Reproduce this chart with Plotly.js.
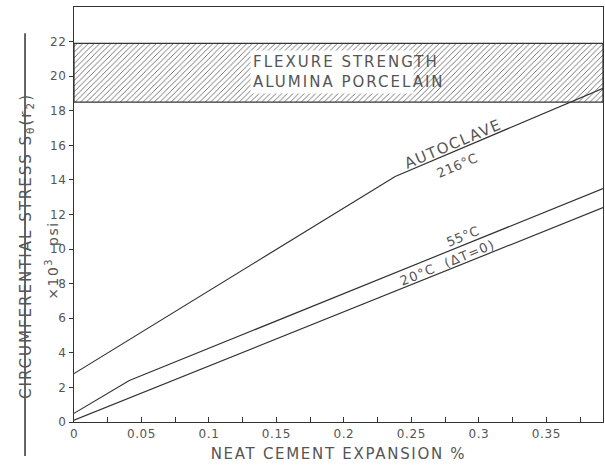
<!DOCTYPE html>
<html>
<head>
<meta charset="utf-8">
<script src="https://cdn.plot.ly/plotly-3.0.1.min.js"></script>
<style>
html,body{margin:0;padding:0;background:#fff;}
#chart{width:605px;height:466px;}
#chart g.annotation[data-index="0"] text{letter-spacing:2px;}
#chart g.annotation[data-index="1"] text{letter-spacing:1.5px;}
#chart g.annotation[data-index="2"] text{letter-spacing:2px;}
#chart g.annotation[data-index="3"] text{letter-spacing:1.5px;}
#chart g.annotation[data-index="4"] text{letter-spacing:0.5px;}
#chart g.annotation[data-index="5"] text{letter-spacing:0.5px;}
#chart g.annotation[data-index="6"] text{letter-spacing:1.2px;}
#chart text.xtitle{letter-spacing:1.7px;}
#chart g.xtick text, #chart g.ytick text{letter-spacing:0.6px;}
</style>
</head>
<body>
<div id="chart"></div>
<script>
// Data
const expansionAutoclave = [0, 0.238, 0.392];
const stressAutoclave = [2.8, 14.2, 19.3];
const expansion55 = [0, 0.041, 0.392];
const stress55 = [0.5, 2.4, 13.5];
const expansion20 = [0, 0.392];
const stress20 = [0.1, 12.4];
const bandExpansion = [0, 0.392];
const bandStress = [18.5, 21.9];
const yTickVals = [0, 2, 4, 6, 8, 10, 12, 14, 16, 18, 20, 22];
const xTickVals = [0, 0.05, 0.1, 0.15, 0.2, 0.25, 0.3, 0.35];
const xTickText = ['0', '0.05', '0.1', '0.15', '0.2', '0.25', '0.3', '0.35'];

const ink = '#333';
const textInk = '#555';
const fontFam = 'DejaVu Sans, sans-serif';

const traces = [
  {
    x: [bandExpansion[0], bandExpansion[1], bandExpansion[1], bandExpansion[0], bandExpansion[0]],
    y: [bandStress[0], bandStress[0], bandStress[1], bandStress[1], bandStress[0]],
    mode: 'lines', fill: 'toself', fillcolor: 'rgba(0,0,0,0)',
    fillpattern: {shape: '/', fgcolor: '#555', bgcolor: '#fff', size: 4, solidity: 0.2},
    line: {color: ink, width: 1.2}, hoverinfo: 'skip', showlegend: false
  },
  {x: expansionAutoclave, y: stressAutoclave, mode: 'lines', line: {color: ink, width: 1.2}, showlegend: false},
  {x: expansion55, y: stress55, mode: 'lines', line: {color: ink, width: 1.2}, showlegend: false},
  {x: expansion20, y: stress20, mode: 'lines', line: {color: ink, width: 1.2}, showlegend: false}
];

const layout = {
  width: 605, height: 466,
  margin: {l: 74, r: 2, t: 7, b: 44},
  paper_bgcolor: '#fff', plot_bgcolor: '#fff',
  font: {family: fontFam, color: textInk, size: 12},
  showlegend: false,
  xaxis: {
    range: [0, 0.392], tickvals: xTickVals, ticktext: xTickText,
    ticks: 'inside', ticklen: 5, tickcolor: ink,
    minor: {dtick: 0.025, tick0: 0, ticks: 'inside', ticklen: 5, tickcolor: ink},
    showgrid: false, zeroline: false, showline: true, mirror: true, linecolor: ink, linewidth: 1.2,
    tickfont: {size: 12, color: textInk, family: fontFam},
    title: {text: 'NEAT CEMENT EXPANSION %', font: {size: 15, color: textInk, family: fontFam}, standoff: 9}
  },
  yaxis: {
    range: [0, 24], tickvals: yTickVals,
    ticks: 'outside', ticklen: 4, tickcolor: ink,
    showgrid: false, zeroline: false, showline: true, mirror: true, linecolor: ink, linewidth: 1.2,
    tickfont: {size: 12, color: textInk, family: fontFam}
  },
  shapes: [
    {type: 'line', xref: 'paper', yref: 'paper', x0: -0.0926, x1: -0.0926, y0: -0.082, y1: 0.937,
     line: {color: ink, width: 1.5}}
  ],
  annotations: [
    {xref: 'paper', yref: 'paper', x: -0.090, y: 0.425, xanchor: 'center', yanchor: 'middle',
     text: 'CIRCUMFERENTIAL STRESS S<sub>θ</sub>(r<sub>2</sub>)',
     textangle: -90, showarrow: false, font: {size: 15, color: textInk, family: fontFam}},
    {xref: 'paper', yref: 'paper', x: -0.042, y: 0.39, xanchor: 'center', yanchor: 'middle',
     text: '×10<sup>3</sup>  psi',
     textangle: -90, showarrow: false, font: {size: 14, color: textInk, family: fontFam}},
    {x: 0.191, y: 20.25, text: 'FLEXURE STRENGTH<br>ALUMINA PORCELAIN', align: 'left',
     showarrow: false, bgcolor: '#fff', borderpad: 2, font: {size: 15, color: textInk, family: fontFam}},
    {x: 0.281, y: 16.05, text: 'AUTOCLAVE', textangle: -23, showarrow: false,
     font: {size: 15, color: textInk, family: fontFam}},
    {x: 0.284, y: 14.85, text: '216°C', textangle: -23, showarrow: false,
     font: {size: 13, color: textInk, family: fontFam}},
    {x: 0.288, y: 10.7, text: '55°C', textangle: -22, showarrow: false,
     font: {size: 13, color: textInk, family: fontFam}},
    {x: 0.277, y: 9.25, text: '20°C  (ΔT=0)', textangle: -22, showarrow: false,
     font: {size: 13, color: textInk, family: fontFam}}
  ]
};

Plotly.newPlot('chart', traces, layout, {displayModeBar: false, staticPlot: true});
</script>
</body>
</html>
